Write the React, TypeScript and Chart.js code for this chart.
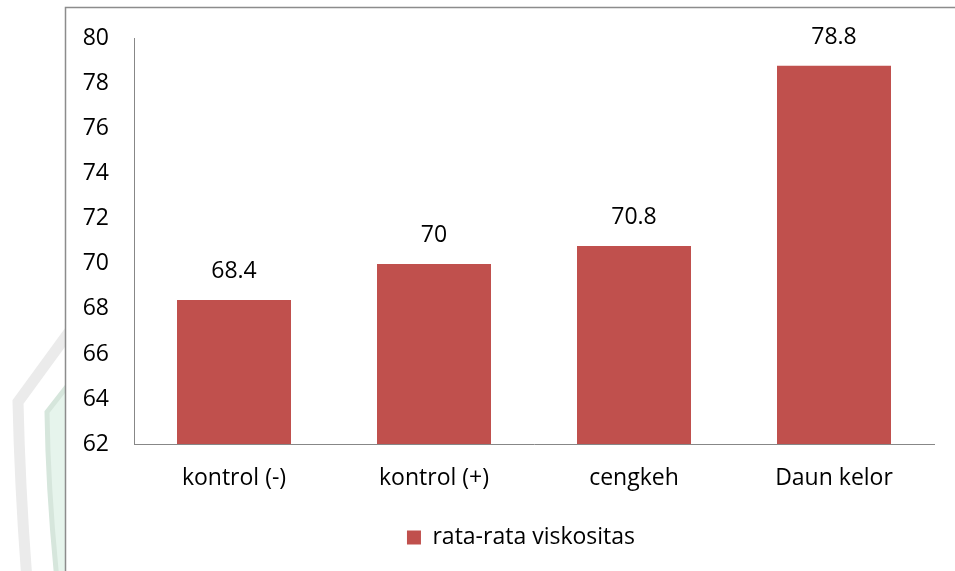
import React, { useEffect, useRef } from "react";
import { Chart, registerables } from "chart.js";

Chart.register(...registerables);

const categories = ["kontrol (-)", "kontrol (+)", "cengkeh", "Daun kelor"];
const values = [68.4, 70, 70.8, 78.8];
const seriesName = "rata-rata viskositas";
const yMin = 62;
const yMax = 80;
const yStep = 2;

const FONT = "'Open Sans', 'Noto Sans', sans-serif";
const FONT_SIZE = 23;
const BAR_COLOR = "#C0504D";
const AXIS_COLOR = "#878787";
const LEGEND_SHIFT = 54;

const backgroundPlugin = {
  id: "bgDecor",
  afterLayout(chart: any) {
    if (chart.legend) {
      chart.legend.left += LEGEND_SHIFT;
      chart.legend.right += LEGEND_SHIFT;
    }
  },
  beforeDraw(chart: any) {
    const ctx = chart.ctx;
    ctx.save();
    ctx.fillStyle = "#ffffff";
    ctx.fillRect(0, 0, chart.width, chart.height);
    ctx.strokeStyle = "#ebebeb";
    ctx.lineWidth = 11;
    ctx.beginPath();
    ctx.moveTo(72, 328);
    ctx.lineTo(18, 402);
    ctx.quadraticCurveTo(20, 490, 27, 580);
    ctx.stroke();
    ctx.fillStyle = "#e6f4ec";
    ctx.beginPath();
    ctx.moveTo(72, 380);
    ctx.lineTo(47, 412);
    ctx.quadraticCurveTo(48, 490, 57, 580);
    ctx.lineTo(72, 580);
    ctx.closePath();
    ctx.fill();
    ctx.strokeStyle = "#d6e6dc";
    ctx.lineWidth = 5;
    ctx.beginPath();
    ctx.moveTo(72, 380);
    ctx.lineTo(47, 412);
    ctx.quadraticCurveTo(48, 490, 57, 580);
    ctx.stroke();
    ctx.fillStyle = "#ffffff";
    ctx.fillRect(65, 7, chart.width, chart.height);
    ctx.strokeStyle = "#8c8c8c";
    ctx.lineWidth = 1.5;
    ctx.strokeRect(65.5, 7.5, chart.width + 20, chart.height + 20);
    ctx.restore();
  },
};

const dataLabelPlugin = {
  id: "dataLabels",
  afterDatasetsDraw(chart: any) {
    const ctx = chart.ctx;
    const meta = chart.getDatasetMeta(0);
    ctx.save();
    ctx.font = `${FONT_SIZE}px ${FONT}`;
    ctx.fillStyle = "#000000";
    ctx.textAlign = "center";
    ctx.textBaseline = "middle";
    meta.data.forEach((bar: any, i: number) => {
      ctx.fillText(String(values[i]), bar.x, bar.y - 28);
    });
    ctx.restore();
  },
};

export default function App() {
  const canvasRef = useRef<HTMLCanvasElement | null>(null);

  useEffect(() => {
    if (!canvasRef.current) return;
    const chart = new Chart(canvasRef.current, {
      type: "bar",
      data: {
        labels: categories,
        datasets: [
          {
            label: seriesName,
            data: values,
            backgroundColor: BAR_COLOR,
            borderWidth: 0,
            categoryPercentage: 1,
            barPercentage: 0.57,
          },
        ],
      },
      options: {
        responsive: false,
        animation: false,
        devicePixelRatio: 1,
        layout: { padding: { left: 0, right: 21, top: 37, bottom: 12 } },
        plugins: {
          tooltip: { enabled: false },
          legend: {
            position: "bottom",
            labels: {
              boxWidth: 14,
              boxHeight: 14,
              padding: 10,
              color: "#000000",
              font: { family: FONT, size: FONT_SIZE },
            },
          },
        },
        scales: {
          x: {
            grid: { display: false, drawTicks: false },
            border: { display: true, color: AXIS_COLOR, width: 1 },
            ticks: {
              color: "#000000",
              padding: 21,
              font: { family: FONT, size: FONT_SIZE },
            },
            afterFit(scale: any) {
              scale.height = 72;
            },
          },
          y: {
            min: yMin,
            max: yMax,
            grid: { display: false, drawTicks: false },
            border: { display: true, color: AXIS_COLOR, width: 1 },
            ticks: {
              stepSize: yStep,
              color: "#000000",
              padding: 25,
              font: { family: FONT, size: FONT_SIZE },
            },
            afterFit(scale: any) {
              scale.width = 134;
            },
          },
        },
      },
      plugins: [backgroundPlugin, dataLabelPlugin],
    });
    return () => chart.destroy();
  }, []);

  return (
    <div style={{ position: "absolute", left: 0, top: 0, width: 955, height: 571 }}>
      <canvas ref={canvasRef} width={955} height={571} />
    </div>
  );
}
